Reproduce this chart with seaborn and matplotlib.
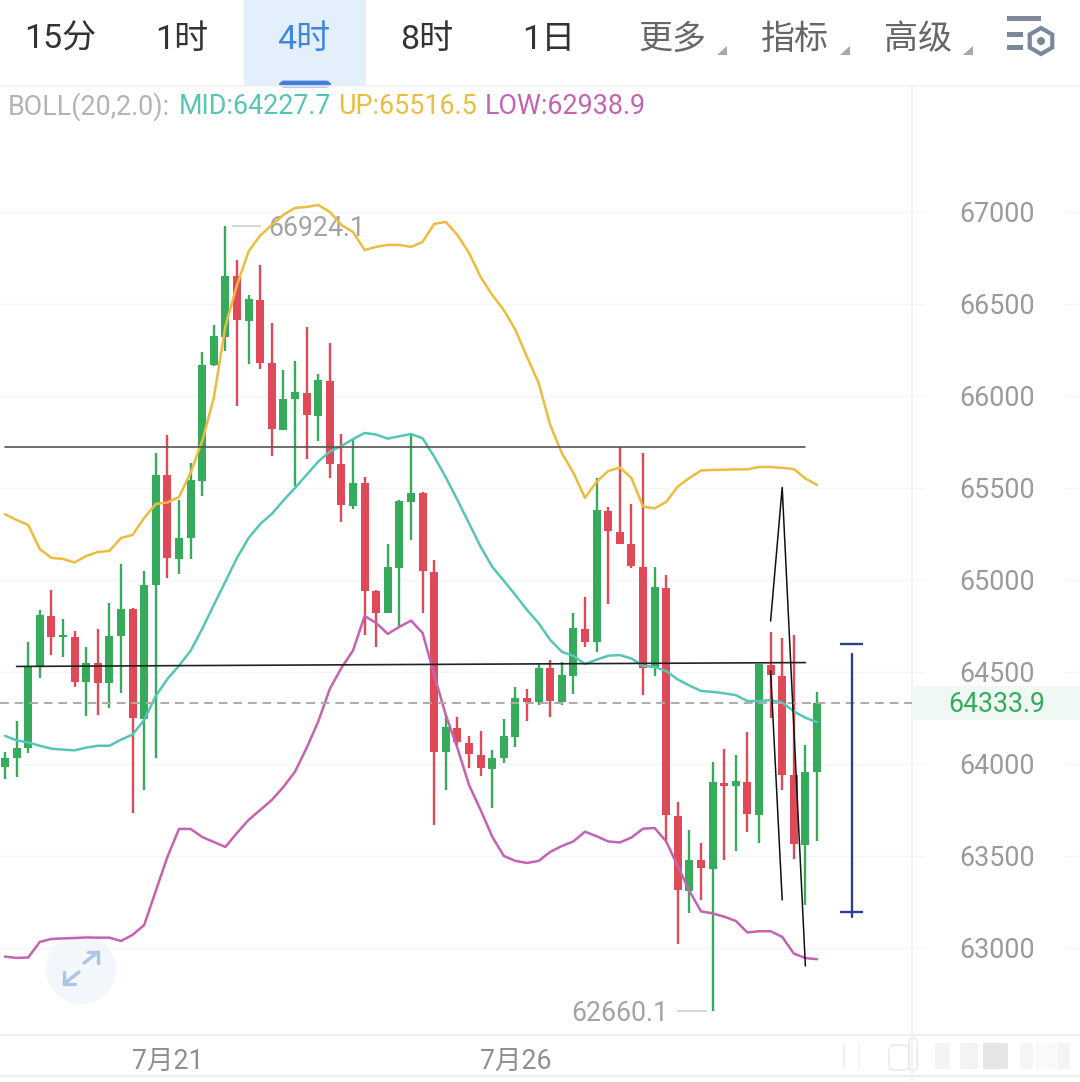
import numpy as np
import pandas as pd
import matplotlib.pyplot as plt
import seaborn as sns
from matplotlib.patches import Rectangle, Circle, Polygon, RegularPolygon, FancyBboxPatch

GREEN = "#35AB5B"
RED = "#E04A58"
TEAL = "#55C6B6"
YELLOW = "#EDBB3E"
PINK = "#C562B2"
GREY = "#A3A3A3"

# ── Candles (price units) ──────────────────────────────────────────
opens = [63982, 64035, 64089, 64525, 64804, 64689, 64690, 64443, 64547, 64440,
         64693, 64840, 64245, 64970, 65571, 65116, 65226, 65540, 66168, 66321,
         66652, 66410, 66524, 66179, 65815, 65984, 66018, 65893, 66083, 65629,
         65404, 65526, 64942, 64821, 65067, 65426, 65471, 65045, 64064, 64197,
         64116, 64050, 63973, 64031, 64149, 64360, 64335, 64520, 64339, 64480,
         64734, 64665, 65375, 65261, 65195, 65073, 64522, 64958, 63719, 63310,
         63476, 63429, 63898, 63880, 63902, 63725, 64536, 64478, 63939, 63560,
         63958]
closes = [64035, 64089, 64529, 64810, 64690, 64697, 64448, 64547, 64440, 64697,
          64842, 64250, 64973, 65571, 65120, 65228, 65543, 66168, 66324, 66652,
          66413, 66527, 66179, 65821, 65984, 66022, 65897, 66087, 65630, 65408,
          65529, 64942, 64822, 65072, 65431, 65474, 65049, 64067, 64203, 64118,
          64054, 63977, 64031, 64152, 64360, 64339, 64520, 64344, 64484, 64738,
          64665, 65378, 65264, 65197, 65075, 64522, 64962, 63721, 63313, 63476,
          63432, 63902, 63880, 63906, 63729, 64542, 64484, 63939, 63565, 63958,
          64333.9]
highs = [64067, 64234, 64663, 64835, 64948, 64788, 64723, 64633, 64734, 64875,
         65084, 64845, 65049, 65690, 65788, 65432, 65636, 66239, 66388, 66924.1,
         66739, 66549, 66712, 66399, 66141, 66190, 66375, 66120, 66288, 65793,
         65761, 65560, 64945, 65196, 65435, 65788, 65478, 65109, 64266, 64257,
         64152, 64181, 64076, 64243, 64417, 64406, 64551, 64565, 64556, 64819,
         64910, 65555, 65399, 65722, 65414, 65690, 65071, 65029, 63794, 63641,
         63569, 64011, 64083, 64047, 64172, 64542, 64717, 64686, 64703, 64105,
         64391]
lows = [63917, 63929, 64057, 64469, 64594, 64583, 64418, 64261, 64266, 64304,
        64383, 63734, 63859, 64035, 65013, 65034, 65116, 65458, 66165, 66242,
        65943, 66174, 66147, 65674, 65815, 65511, 65658, 65755, 65554, 65317,
        65386, 64701, 64638, 64818, 64745, 65217, 64822, 63669, 63859, 64103,
        63978, 63935, 63763, 64007, 64094, 64235, 64321, 64257, 64321, 64380,
        64634, 64609, 64870, 65195, 65066, 64376, 64480, 63579, 63024, 63188,
        63263, 62660.1, 63479, 63527, 63632, 63569, 64251, 63860, 63486, 63236,
        63579]

# ── Bollinger bands ────────────────────────────────────────────────
boll_up = [65357, 65326, 65299, 65168, 65120, 65114, 65095, 65130, 65152, 65158,
           65228, 65245, 65337, 65413, 65421, 65451, 65582, 65755, 65989, 66378,
           66603, 66786, 66872, 66929, 66984, 67022, 67027, 67038, 67000, 66929,
           66891, 66793, 66810, 66821, 66821, 66810, 66837, 66935, 66946, 66875,
           66777, 66647, 66549, 66467, 66359, 66212, 66071, 65842, 65690, 65582,
           65446, 65534, 65592, 65611, 65554, 65399, 65389, 65424, 65508, 65554,
           65595, 65598, 65599, 65601, 65601, 65614, 65614, 65609, 65603, 65551,
           65516.5]
boll_mid = [64153, 64128, 64117, 64099, 64083, 64078, 64074, 64089, 64099, 64099,
            64132, 64160, 64239, 64370, 64462, 64534, 64615, 64734, 64864, 64991,
            65120, 65228, 65304, 65359, 65432, 65500, 65571, 65643, 65697, 65728,
            65765, 65799, 65790, 65768, 65781, 65793, 65770, 65670, 65558, 65435,
            65308, 65181, 65072, 64996, 64918, 64837, 64765, 64674, 64610, 64587,
            64543, 64567, 64588, 64592, 64573, 64533, 64527, 64505, 64459, 64426,
            64397, 64392, 64384, 64374, 64342, 64342, 64347, 64334, 64286, 64251,
            64227.7]
boll_low = [62953, 62946, 62948, 63033, 63049, 63052, 63054, 63057, 63056, 63056,
            63038, 63071, 63125, 63310, 63495, 63647, 63647, 63603, 63576, 63549,
            63625, 63696, 63750, 63804, 63875, 63958, 64087, 64230, 64408, 64522,
            64616, 64804, 64766, 64707, 64745, 64779, 64712, 64484, 64266, 64087,
            63886, 63750, 63605, 63500, 63473, 63462, 63473, 63522, 63554, 63579,
            63632, 63607, 63579, 63573, 63600, 63648, 63652, 63579, 63444, 63310,
            63199, 63188, 63170, 63147, 63084, 63091, 63091, 63060, 62970, 62945,
            62938.9]

price_ticks = [63000, 63500, 64000, 64500, 65000, 65500, 66000, 66500, 67000]
date_ticks = [14, 44]
date_labels = ["7月21", "7月26"]
tabs = ["15分", "1时", "4时", "8时", "1日", "更多", "指标", "高级"]

# hand drawn marks on the screenshot, (candle index, price)
pen_up_x = [66, 67, 69]
pen_up_y = [64777, 65503, 62902]
pen_down_x = [66, 67]
pen_down_y = [64505, 63261]
line_top_x = [0, 69]
line_top_y = [65724, 65724]
line_low_x = [1, 69]
line_low_y = [64530, 64551]
bracket_x = 73
bracket_y = [63168, 64598]
bracket_caps = [63196, 64652]

# ── Style ──────────────────────────────────────────────────────────
sns.set_theme(style="white")
plt.rcParams["font.family"] = ["Roboto", "Noto Sans CJK SC", "DejaVu Sans"]

fig = plt.figure(figsize=(10.8, 10.82), dpi=100, facecolor="white")

# chrome layer, in screen pixels, sits under the chart
ui = fig.add_axes([0, 0, 1, 1], zorder=0)
ui.set_xlim(0, 1080)
ui.set_ylim(1082, 0)
ui.axis("off")

ax = fig.add_axes([0, 47 / 1082, 912 / 1080, 948 / 1082], zorder=1)
ax.patch.set_alpha(0)
ax.set_xlim(-0.43, 78.19)
ax.set_ylim(62527, 67679)

# ── Tabs ───────────────────────────────────────────────────────────
ui.add_patch(Rectangle((244, 0), 122, 86, color="#E3EFFB", lw=0))
ui.add_patch(FancyBboxPatch((281, 82), 48, 4, boxstyle="round,pad=0,rounding_size=3",
                            fc="#3F7FD8", ec="#3F7FD8", lw=2))
tab_x = [60, 182, 304, 427, 549, 672, 795, 918]
for i, (label, x) in enumerate(zip(tabs, tab_x)):
    color = "#3F86DE" if i == 2 else ("#666666" if i > 4 else "#333333")
    ui.text(x, 40, label, ha="center", va="center", fontsize=24.5, color=color)
for x in [727, 850, 973]:
    ui.add_patch(Polygon([[x, 46], [x, 55], [x - 10, 55]], color="#A8A8A8", lw=0))

# settings icon
ui.add_patch(Rectangle((1007, 16), 34, 5, color="#7C8799", lw=0))
ui.add_patch(Rectangle((1007, 32), 16, 5, color="#7C8799", lw=0))
ui.add_patch(Rectangle((1007, 45), 16, 5, color="#7C8799", lw=0))
ui.add_patch(RegularPolygon((1041, 41), 6, radius=13, fc="none", ec="#7C8799", lw=3))
ui.add_patch(Circle((1041, 41), 4, color="#7C8799", lw=0))

# dividers
ui.plot([0, 1080], [86, 86], color="#F1F1F1", lw=1.2)
ui.plot([0, 1080], [1035, 1035], color="#EFEFEF", lw=1.6)
ui.plot([0, 1080], [1076, 1076], color="#EFEFEF", lw=1.6)
ui.plot([912, 912], [86, 1082], color="#F1F1F1", lw=1.2)

# indicator line
ui.text(8, 107, "BOLL(20,2.0):", ha="left", va="center", fontsize=19.4, color="#B3B3B3")
ui.text(179, 107, f"MID:{boll_mid[-1]}", ha="left", va="center", fontsize=19.4, color=TEAL)
ui.text(338, 107, f"UP:{boll_up[-1]}", ha="left", va="center", fontsize=19.4, color=YELLOW)
ui.text(485, 107, f"LOW:{boll_low[-1]}", ha="left", va="center", fontsize=19.4, color=PINK)

# last price box
ui.add_patch(Rectangle((913, 686), 167, 34, color="#EFF8F2", lw=0))

# expand button
ui.add_patch(Circle((81, 969), 35, color="#F3F7FC", lw=0))
for pts in ([[84, 963], [98, 952]], [[64, 984], [79, 972]]):
    ui.plot(*zip(*pts), color="#A9C6E8", lw=2.4)
ui.plot([88, 98, 98], [952, 952, 963], color="#A9C6E8", lw=2.4)
ui.plot([64, 64, 75], [972, 984, 984], color="#A9C6E8", lw=2.4)

# ghost of the range slider at the bottom
for x, w, c in [(843, 2, "#F0F0F0"), (858, 2, "#F3F3F3"), (935, 15, "#F4F4F4"),
                (960, 18, "#F3F3F3"), (983, 25, "#E6E6E6"), (1020, 13, "#F5F5F5"),
                (1036, 20, "#F9F9F9"), (1057, 13, "#F4F4F4")]:
    ui.add_patch(FancyBboxPatch((x, 1043), w, 26, boxstyle="round,pad=0,rounding_size=2",
                                fc=c, ec="none"))
ui.add_patch(FancyBboxPatch((889, 1045), 20, 25, boxstyle="round,pad=0,rounding_size=5",
                            fc="white", ec="#E8E8E8", lw=1))
ui.add_patch(FancyBboxPatch((909, 1038), 8, 32, boxstyle="round,pad=0,rounding_size=3",
                            fc="white", ec="#E8E8E8", lw=1))

# ── Candles ────────────────────────────────────────────────────────
idx = np.arange(len(opens))
ohlc = pd.DataFrame({"idx": idx, "open": opens, "close": closes, "high": highs, "low": lows,
                     "up": boll_up, "mid": boll_mid, "down": boll_low})
colors = np.where(ohlc["close"] >= ohlc["open"], GREEN, RED)

ax.vlines(ohlc["idx"], ohlc["low"], ohlc["high"], colors=colors, lw=1.7, zorder=2)
ax.bar(ohlc["idx"], (ohlc["close"] - ohlc["open"]).abs().clip(lower=12),
       bottom=ohlc[["open", "close"]].min(axis=1), width=0.7, color=colors, lw=0, zorder=3)

# ── Bands ──────────────────────────────────────────────────────────
for col, color in [("up", YELLOW), ("mid", TEAL), ("down", PINK)]:
    sns.lineplot(data=ohlc, x="idx", y=col, color=color, lw=1.8, ax=ax,
                 estimator=None, errorbar=None, legend=False, zorder=4)

ax.axhline(closes[-1], color="#ABABAB", lw=1.4, ls=(0, (4.5, 3)), zorder=5)

# ── Hand drawn lines ───────────────────────────────────────────────
ax.plot(line_top_x, line_top_y, color="#555555", lw=1.2, zorder=6)
ax.plot(line_low_x, line_low_y, color="#222222", lw=1.2, zorder=6)
ax.plot(pen_up_x, pen_up_y, color="#111111", lw=1.1, zorder=6)
ax.plot(pen_down_x, pen_down_y, color="#111111", lw=1.1, zorder=6)
ax.plot([bracket_x, bracket_x], bracket_y, color="#2A3F95", lw=1.7, zorder=6)
ax.hlines(bracket_caps, bracket_x - 1, bracket_x + 0.95, color="#2A3F95", lw=1.7, zorder=6)

# ── Extremes ───────────────────────────────────────────────────────
ax.hlines(max(highs), 19.6, 22.1, color="#D0D0D0", lw=1.2)
ax.annotate("66924.1", xy=(22.67, max(highs)), xytext=(0, -2), textcoords="offset points",
            ha="left", va="center", fontsize=19.2, color=GREY)
ax.hlines(min(lows), 57.9, 60.5, color="#D0D0D0", lw=1.2)
ax.annotate("62660.1", xy=(57.2, min(lows)), xytext=(0, -2), textcoords="offset points",
            ha="right", va="center", fontsize=19.2, color=GREY)

# ── Axes ───────────────────────────────────────────────────────────
ax.set_yticks(price_ticks)
ax.set_xticks(date_ticks)
ax.set_xticklabels(date_labels, fontsize=19.2, color="#8F8F8F")
ax.yaxis.tick_right()
ax.tick_params(axis="y", length=0, pad=34, labelsize=19.4, labelcolor="#9A9A9A")
ax.tick_params(axis="x", length=0, pad=9)
ax.set_xlabel("")
ax.set_ylabel("")
ax.grid(axis="y", color="#F5F5F5", lw=1)
ax.set_axisbelow(True)
sns.despine(ax=ax, left=True, right=True, top=True, bottom=True)

# grid stubs either side of the price labels
trans = ax.get_yaxis_transform()
ax.hlines(price_ticks, 1.0, 1.014, transform=trans, color="#F5F5F5", lw=1, clip_on=False)
ax.hlines(price_ticks, 1.168, 1.185, transform=trans, color="#F5F5F5", lw=1, clip_on=False)

ax.annotate(f"{closes[-1]}", xy=(1.093, closes[-1]), xycoords=trans, xytext=(0, -1.5),
            textcoords="offset points", ha="center", va="center", fontsize=19.2, color=GREEN)

fig.savefig("out.png", dpi=100)
